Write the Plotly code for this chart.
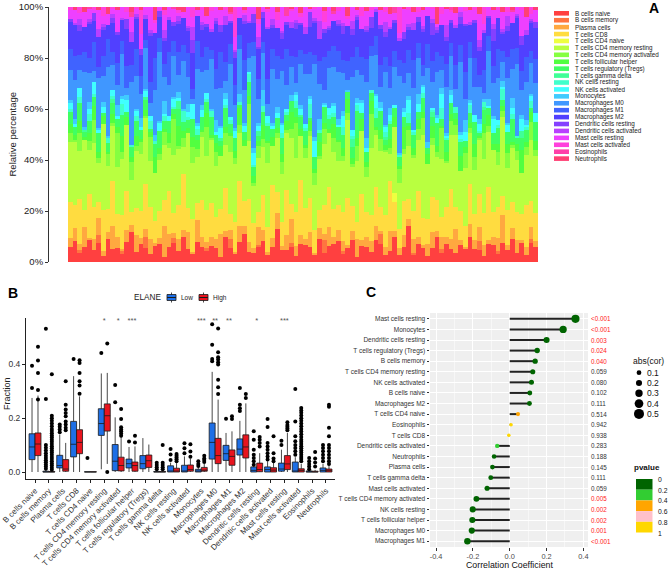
import colorsys
import plotly.graph_objects as go

W, H = 668, 574
FONT = "Liberation Sans, Arial, sans-serif"


def fx(p):
    return p / W


def fy(p):
    return 1 - p / H


cell_types = [
    "B cells naive", "B cells memory", "Plasma cells", "T cells CD8",
    "T cells CD4 naive", "T cells CD4 memory resting",
    "T cells CD4 memory activated", "T cells follicular helper",
    "T cells regulatory (Tregs)", "T cells gamma delta", "NK cells resting",
    "NK cells activated", "Monocytes", "Macrophages M0", "Macrophages M1",
    "Macrophages M2", "Dendritic cells resting", "Dendritic cells activated",
    "Mast cells resting", "Mast cells activated", "Eosinophils", "Neutrophils",
]

# ---------------- Panel A: per-sample fractions (percent) ----------------
a_b_naive = "5 8 3 6 9 4 7 2 10 6 5 3 8 12 4 6 7 3 5 9 2 6 8 4 11 5 3 7 6 4 9 5 2 8 6 3 7 10 5 4 6 8 3 5 13 6 4 7 2 9 5 6 3 8 4 7 5 10 3 6 8 2 5 7 4 9 6 3 5 8 4 6 11 3 7 5 2 6 9 4 8 5 3 7 6 10 4 5 2 8 6 3 7 5 9 4 6 3 8 5"
a_b_memory = "0 0 1 0 0 0 3 0 0 0 0 1 0 0 0 0 5 0 0 0 0 0 2 0 0 0 0 0 0 1 0 0 0 0 4 0 0 0 0 0 1 0 0 0 0 0 0 2 0 0 0 0 0 0 6 0 0 0 1 0 0 0 0 0 0 0 3 0 0 0 0 0 0 1 0 0 0 0 0 2 0 0 0 0 0 0 0 4 0 0 0 1 0 0 0 0 0 0 2 0"
a_plasma = "3 5 2 8 1 4 6 2 3 10 4 1 5 3 7 2 4 6 1 3 12 5 2 4 3 6 1 8 4 2 5 3 9 2 4 1 6 3 5 2 7 4 1 3 6 2 5 11 3 4 2 6 1 4 3 8 2 5 4 1 3 7 2 5 4 6 1 3 9 2 4 5 2 6 3 1 4 7 2 5 3 4 8 2 1 5 3 6 4 2 3 5 10 2 4 6 1 3 5 2"
a_cd8 = "12 9 15 7 18 11 6 14 10 20 8 13 16 5 11 9 22 12 7 14 10 17 8 12 25 9 13 6 15 11 19 8 10 14 7 12 16 9 21 11 6 13 10 18 8 12 15 7 11 27 9 14 10 6 13 17 8 12 11 20 9 7 15 12 10 16 8 13 23 9 11 14 6 12 18 10 8 15 11 9 13 19 7 12 10 16 8 14 11 24 9 12 7 15 10 13 8 17 11 9"
a_cd4_naive = "0 0 0 0 0 0 0 0 0 0 0 0 0 0 0 0 0 0 0 0 0 0 0 0 0 0 0 0 0 0 0 0 0 0 0 0 0 0 0 0 0 0 0 0 0 0 0 0 0 0 0 0 0 0 0 0 0 0 0 0 0 0 0 0 0 0 0 0 0 3 0 0 0 0 0 0 0 0 0 0 0 0 0 0 0 0 0 0 0 0 0 0 0 0 0 0 0 0 0 0"
a_cd4_rest = "20 24 16 28 18 22 14 30 19 25 17 21 27 13 23 19 32 18 15 26 21 17 24 20 12 28 22 16 25 19 35 18 21 14 27 23 17 20 29 16 22 18 26 13 21 24 19 31 17 22 15 25 20 18 28 23 16 21 19 33 14 24 20 17 26 22 18 25 12 21 27 19 16 23 20 30 18 22 15 26 19 21 24 17 28 20 14 23 19 25 22 16 29 18 21 24 13 20 26 19"
a_cd4_act = "3 1 6 0 4 8 2 0 5 1 12 3 0 7 2 4 1 9 0 3 5 2 15 1 4 0 6 3 2 10 1 5 0 4 7 2 3 0 18 1 5 3 8 0 2 6 1 4 11 0 3 2 5 1 7 0 4 9 2 3 1 6 0 5 13 2 4 1 3 0 8 2 5 1 4 6 0 3 2 14 1 5 3 0 7 2 4 1 9 3 0 5 2 6 1 4 0 3 8 2"
a_tfh = "3 2 4 1 3 5 2 3 1 4 2 6 3 2 4 1 3 2 5 3 1 4 2 7 3 2 4 3 1 5 2 3 4 2 1 3 6 2 4 3 2 5 1 3 2 4 3 8 2 3 1 4 2 5 3 2 4 1 3 6 2 3 4 2 5 1 3 2 4 3 2 9 1 3 4 2 3 5 2 1 4 3 2 6 3 2 4 1 3 5 2 3 2 4 1 3 7 2 4 3"
a_tregs = "4 3 6 2 5 3 7 1 4 5 3 8 2 4 6 3 5 1 4 9 3 5 2 6 4 3 7 2 5 4 10 3 2 6 4 5 1 3 7 4 2 5 6 3 4 8 2 5 3 6 4 1 5 3 7 4 2 6 5 3 4 11 2 5 3 4 6 2 7 3 5 4 1 6 3 5 2 4 8 3 5 4 2 6 3 4 7 1 5 3 4 6 2 5 9 3 4 5 2 6"
a_gd = "0 0 0 1 0 0 0 0 0 2 0 0 0 0 0 0 1 0 0 0 0 0 0 3 0 0 0 0 0 0 0 0 1 0 0 0 0 0 0 0 2 0 0 0 0 0 0 0 0 1 0 0 0 0 0 0 0 0 0 0 3 0 0 0 0 0 0 1 0 0 0 0 0 0 0 0 0 2 0 0 0 0 0 0 0 0 0 0 1 0 0 0 0 0 0 0 2 0 0 0"
a_nk_rest = "1 0 2 0 3 1 0 0 2 1 0 4 0 1 2 0 0 3 1 0 2 0 1 0 5 1 0 2 0 1 3 0 0 1 2 0 1 0 4 1 0 2 1 0 0 3 1 0 2 0 1 6 0 1 0 2 1 0 3 0 1 2 0 0 1 4 0 2 1 0 1 0 3 1 0 2 0 1 0 5 1 0 2 1 0 3 0 1 2 0 0 1 4 0 2 1 0 1 3 0"
a_nk_act = "2 1 3 0 2 4 1 2 0 3 1 2 5 0 2 1 3 2 0 4 1 2 3 1 0 2 6 1 3 2 0 1 4 2 1 3 0 2 1 5 2 0 3 1 2 4 1 0 2 3 1 2 7 0 1 3 2 1 4 0 2 1 3 2 0 5 1 2 3 1 0 2 4 1 3 2 0 1 2 6 1 3 0 2 4 1 2 3 0 1 5 2 1 3 2 0 4 1 2 3"
a_mono = "1 2 0 1 3 0 1 2 1 0 4 1 2 0 1 3 1 0 2 1 5 0 1 2 1 3 0 1 2 0 1 4 1 2 0 1 3 1 0 2 1 6 0 1 2 1 0 3 1 2 0 1 2 4 1 0 1 3 2 1 0 2 1 5 0 1 2 1 3 0 1 2 1 0 4 1 2 0 1 3 1 2 0 1 6 1 0 2 1 3 1 0 2 1 4 0 1 2 1 0"
a_m0 = "10 15 6 22 12 4 18 9 30 11 7 16 3 25 13 8 20 5 14 35 9 12 17 6 21 10 2 19 13 8 28 11 15 4 23 9 16 12 7 40 10 14 5 18 11 26 8 13 3 20 15 9 32 12 6 17 10 22 14 4 19 11 8 27 13 16 5 21 9 12 45 10 7 18 14 3 24 11 15 8 20 13 6 29 10 17 9 14 2 22 12 16 7 19 11 33 8 15 13 10"
a_m1 = "7 9 5 8 6 10 4 7 12 6 8 5 9 7 11 6 4 8 10 7 5 13 6 8 7 9 4 10 6 8 5 7 14 6 9 8 5 11 7 6 8 4 10 7 9 6 12 5 8 7 6 9 4 8 15 7 6 10 5 8 7 9 6 11 4 8 7 6 10 5 9 8 7 12 6 4 8 9 7 6 10 5 8 7 13 6 9 5 8 7 6 11 4 9 8 7 6 10 5 8"
a_m2 = "9 12 8 10 14 7 11 9 6 13 10 8 15 9 12 7 10 18 8 11 9 13 6 10 12 8 14 9 11 7 10 16 8 12 9 11 6 13 10 8 12 9 20 7 11 10 8 13 9 12 6 10 14 8 11 9 7 12 10 15 8 11 9 13 7 10 12 8 17 9 11 10 6 13 8 12 9 11 7 14 10 8 12 9 22 7 11 10 13 8 9 12 6 11 10 14 8 9 12 10"
a_dc_rest = "1 0 2 0 1 3 0 1 0 2 1 0 4 0 1 2 0 1 0 3 1 0 2 1 0 1 5 0 2 1 0 1 3 0 1 2 0 1 0 4 1 2 0 1 0 3 1 0 2 1 0 6 1 0 2 1 0 1 3 0 2 1 0 1 4 0 1 2 0 1 0 3 1 0 2 1 0 5 1 0 2 1 0 3 1 0 1 2 0 1 4 0 1 2 0 1 3 0 1 2"
a_dc_act = "0 1 2 0 1 0 3 1 0 2 0 1 0 4 1 0 2 1 0 0 3 1 0 2 0 1 5 0 1 0 2 1 0 3 0 1 0 2 1 0 4 0 1 2 0 1 0 3 1 0 2 0 1 6 0 1 0 2 1 0 3 1 0 2 0 1 0 4 1 0 2 0 1 3 0 1 0 2 1 0 5 0 1 2 0 1 0 3 1 0 2 0 1 4 0 1 0 2 1 0"
a_mast_rest = "3 5 2 6 4 1 7 3 5 2 8 4 3 6 2 5 4 9 3 2 6 4 5 1 3 7 4 2 5 3 10 4 6 2 3 5 4 1 7 3 5 2 6 4 3 12 2 5 4 3 6 1 4 5 3 8 2 4 6 3 5 2 4 7 3 1 5 4 6 2 3 9 4 5 2 6 3 4 1 5 7 3 4 2 6 5 3 11 2 4 5 3 6 2 4 3 8 5 2 4"
a_mast_act = "1 0 2 0 0 1 0 3 0 1 0 0 2 0 1 8 0 0 1 0 2 0 0 1 0 0 4 0 1 0 2 0 0 1 0 12 0 1 0 0 2 0 1 0 3 0 0 1 0 2 0 0 1 0 5 0 0 2 0 1 0 0 3 0 1 0 0 2 0 0 15 0 1 0 2 0 0 1 0 3 0 1 0 0 2 0 1 0 6 0 0 1 0 2 0 0 1 0 3 0"
a_eos = "0 0 0 0 1 0 0 0 0 0 0 0 0 2 0 0 0 0 0 0 0 0 1 0 0 0 0 0 0 0 0 0 0 0 1 0 0 0 0 0 0 0 0 0 0 0 3 0 0 0 0 0 0 0 0 0 1 0 0 0 0 0 0 0 0 0 0 0 0 2 0 0 0 0 0 0 0 0 0 0 0 1 0 0 0 0 0 0 0 0 0 0 0 0 1 0 0 0 0 0"
a_neut = "0 1 0 2 0 0 1 0 3 0 1 0 0 2 0 1 0 0 4 0 1 0 0 1 2 0 0 1 0 3 0 0 1 0 2 0 0 1 0 0 5 0 1 0 2 0 0 1 0 3 0 1 0 0 2 0 1 0 0 4 0 1 0 2 0 0 1 0 3 0 0 1 0 2 0 1 0 0 6 0 1 0 2 0 0 1 0 3 0 0 1 0 2 0 1 0 0 4 0 1"

a_series = [a_b_naive, a_b_memory, a_plasma, a_cd8, a_cd4_naive, a_cd4_rest,
            a_cd4_act, a_tfh, a_tregs, a_gd, a_nk_rest, a_nk_act, a_mono,
            a_m0, a_m1, a_m2, a_dc_rest, a_dc_act, a_mast_rest, a_mast_act,
            a_eos, a_neut]
a_tick_vals = [0, 20, 40, 60, 80, 100]
a_tick_text = ["0%", "20%", "40%", "60%", "80%", "100%"]

# ---------------- Panel B: box statistics (Low / High ELANE) ----------------
b_low_q1 = [0.046, 0, 0.015, 0.056, 0, 0.136, 0.005, 0.015, 0.012, 0, 0, 0, 0, 0.048, 0.043, 0.063, 0, 0, 0.003, 0, 0, 0]
b_low_med = [0.093, 0, 0.024, 0.103, 0, 0.18, 0.04, 0.031, 0.031, 0, 0.003, 0.003, 0.002, 0.11, 0.068, 0.085, 0.006, 0.009, 0.011, 0.001, 0, 0.006]
b_low_q3 = [0.142, 0.003, 0.062, 0.188, 0.001, 0.235, 0.102, 0.048, 0.061, 0.002, 0.023, 0.025, 0.01, 0.182, 0.099, 0.123, 0.019, 0.019, 0.033, 0.037, 0.004, 0.015]
b_low_lo = [0, 0, 0, 0, 0, 0.01, 0, 0, 0, 0, 0, 0, 0, 0, 0, 0, 0, 0, 0, 0, 0, 0]
b_low_hi = [0.275, 0.007, 0.139, 0.356, 0.001, 0.366, 0.203, 0.093, 0.126, 0.005, 0.035, 0.058, 0.018, 0.372, 0.145, 0.19, 0.022, 0.04, 0.083, 0.055, 0.008, 0.03]
b_low_out = [
    [0.395, 0.312],
    [0.012, 0.02, 0.028, 0.036, 0.044, 0.052, 0.06, 0.07, 0.08, 0.09, 0.1, 0.271, 0.532],
    [0.148, 0.158, 0.168, 0.176],
    [0.42],
    [0.052],
    [0.442],
    [0.259, 0.323],
    [0.113],
    [],
    [0.01, 0.018, 0.026, 0.034],
    [0.045, 0.065, 0.085],
    [0.07, 0.088, 0.107],
    [0.022, 0.03, 0.04],
    [0.411, 0.42, 0.473, 0.549],
    [0.198],
    [0.227, 0.237, 0.25, 0.312],
    [0.027, 0.04, 0.052, 0.064, 0.083, 0.12, 0.151],
    [0.046, 0.058, 0.07, 0.083, 0.095, 0.108, 0.167, 0.197],
    [0.1, 0.116],
    [0.064, 0.077, 0.089, 0.1, 0.114, 0.133, 0.188, 0.308],
    [0.01, 0.02, 0.03, 0.04, 0.052],
    [0.04, 0.052, 0.064, 0.077, 0.089, 0.1],
]
b_high_q1 = [0.061, 0, 0.003, 0.068, 0, 0.152, 0.004, 0.003, 0.017, 0, 0, 0.003, 0.003, 0.031, 0.025, 0.052, 0.001, 0, 0.009, 0, 0, 0]
b_high_med = [0.104, 0, 0.011, 0.11, 0, 0.209, 0.024, 0.024, 0.042, 0, 0.003, 0.009, 0.007, 0.061, 0.058, 0.093, 0.009, 0.007, 0.03, 0.006, 0, 0.005]
b_high_q3 = [0.145, 0.002, 0.046, 0.157, 0.001, 0.253, 0.055, 0.037, 0.063, 0.002, 0.014, 0.026, 0.017, 0.125, 0.082, 0.138, 0.033, 0.016, 0.061, 0.012, 0.003, 0.011]
b_high_lo = [0, 0, 0, 0, 0, 0.03, 0, 0, 0, 0, 0, 0, 0, 0, 0, 0, 0, 0, 0, 0, 0, 0]
b_high_hi = [0.284, 0.005, 0.108, 0.281, 0.001, 0.368, 0.133, 0.095, 0.102, 0.005, 0.033, 0.05, 0.03, 0.269, 0.151, 0.255, 0.07, 0.035, 0.145, 0.03, 0.008, 0.025]
b_high_out = [
    [0.269, 0.305, 0.368, 0.414, 0.465],
    [0.008, 0.016, 0.024, 0.032, 0.04, 0.048, 0.056, 0.064, 0.072, 0.08, 0.088, 0.096, 0.104, 0.112, 0.12, 0.128, 0.136, 0.144, 0.152, 0.16, 0.17, 0.18, 0.19, 0.2, 0.209, 0.363],
    [0.155, 0.164, 0.176, 0.188, 0.207, 0.219, 0.232, 0.25, 0.337],
    [0.291, 0.321, 0.337, 0.368, 0.405, 0.415],
    [],
    [0.0, 0.477],
    [0.135, 0.143, 0.151, 0.158, 0.166, 0.197, 0.234],
    [0.11, 0.135],
    [],
    [0.01, 0.018, 0.026, 0.034, 0.1],
    [0.04, 0.047, 0.054, 0.06, 0.067],
    [0.057, 0.076, 0.103],
    [0.037, 0.045, 0.05, 0.06],
    [0.29, 0.315, 0.343, 0.399, 0.408, 0.418, 0.426, 0.445, 0.533],
    [0.197, 0.207],
    [0.275, 0.29],
    [0.095, 0.108, 0.12, 0.13],
    [0.04, 0.05, 0.07, 0.133],
    [0.155, 0.162, 0.168, 0.175, 0.185],
    [0.04, 0.048, 0.056, 0.064, 0.072, 0.08, 0.088, 0.096, 0.104, 0.112, 0.12, 0.13, 0.14, 0.15, 0.16, 0.17, 0.18, 0.19, 0.2, 0.21, 0.22, 0.228, 0.238],
    [0.02, 0.035, 0.05, 0.074],
    [0.03, 0.04, 0.052, 0.064, 0.077, 0.089, 0.1, 0.133, 0.164, 0.242, 0.25],
]
b_signif = ["", "", "", "", "", "*", "*", "***", "", "", "", "", "***", "**", "**", "", "*", "", "***", "", "", ""]
b_tick_vals = [0, 0.2, 0.4]
b_tick_text = ["0.0", "0.2", "0.4"]

# ---------------- Panel C: correlation lollipop ----------------
c_names = [
    "Mast cells resting", "Monocytes", "Dendritic cells resting",
    "T cells regulatory (Tregs)", "B cells memory", "T cells CD4 memory resting",
    "NK cells activated", "B cells naive", "Macrophages M2", "T cells CD4 naive",
    "Eosinophils", "T cells CD8", "Dendritic cells activated", "Neutrophils",
    "Plasma cells", "T cells gamma delta", "Mast cells activated",
    "T cells CD4 memory activated", "NK cells resting", "T cells follicular helper",
    "Macrophages M0", "Macrophages M1",
]
c_cor = [0.357, 0.29, 0.20, 0.149, 0.138, 0.125, 0.118, 0.109, 0.107, 0.045, 0.007,
         -0.005, -0.068, -0.085, -0.094, -0.103, -0.123, -0.181, -0.201, -0.203, -0.206, -0.23]
c_pval = [0.0005, 0.0005, 0.003, 0.024, 0.040, 0.059, 0.080, 0.102, 0.111, 0.514, 0.942,
          0.938, 0.283, 0.188, 0.145, 0.111, 0.059, 0.005, 0.002, 0.002, 0.001, 0.0005]
c_ptext = ["<0.001", "<0.001", "0.003", "0.024", "0.040", "0.059", "0.080", "0.102", "0.111",
           "0.514", "0.942", "0.938", "0.283", "0.188", "0.145", "0.111", "0.059", "0.005",
           "0.002", "0.002", "0.001", "<0.001"]
c_tick_vals = [-0.4, -0.2, 0.0, 0.2, 0.4]
c_tick_text = ["-0.4", "-0.2", "0.0", "0.2", "0.4"]
size_legend_vals = [0.1, 0.2, 0.3, 0.4, 0.5]
pval_bin_labels = ["0", "0.2", "0.4", "0.6", "0.8", "1"]
pval_bin_colors = ["#006400", "#32CD32", "#FFA500", "#FFC0CB", "#FFD700"]

# ======================================================================
fig = go.Figure()
shapes = []
annotations = []

# ---------- Panel A ----------
a_vals = [[float(v) for v in s.split()] for s in a_series]
n_samp = min(len(v) for v in a_vals)
a_colors = []
for i in range(len(cell_types)):
    r, g, b = colorsys.hsv_to_rgb(i / len(cell_types), 0.75, 1.0)
    a_colors.append("#%02x%02x%02x" % (int(round(r * 255)), int(round(g * 255)), int(round(b * 255))))

for name, vals, col in zip(cell_types, a_vals, a_colors):
    fig.add_trace(go.Bar(
        x=list(range(n_samp)), y=vals[:n_samp], name=name,
        marker=dict(color=col, line=dict(width=0)),
        showlegend=False, xaxis="x", yaxis="y", hoverinfo="skip",
    ))

A_L, A_BARS, A_R, A_T, A_B = 49, 68, 538, 7, 262
bar_px = (A_R - A_BARS) / n_samp
pad_units = (A_BARS - A_L) / bar_px

# Panel A legend (drawn manually)
for i, (name, col) in enumerate(zip(cell_types, a_colors)):
    yc = 13.3 + i * 6.92
    shapes.append(dict(type="rect", xref="paper", yref="paper",
                       x0=fx(554), x1=fx(569), y0=fy(yc + 2.3), y1=fy(yc - 2.3),
                       fillcolor=col, line=dict(width=0)))
    annotations.append(dict(text=name, xref="paper", yref="paper", x=fx(573), y=fy(yc),
                            xanchor="left", yanchor="middle", showarrow=False,
                            font=dict(size=6.3, color="#222", family=FONT)))
annotations.append(dict(text="Relative percentage", xref="paper", yref="paper",
                        x=fx(12), y=fy((A_T + A_B) / 2), textangle=-90, showarrow=False,
                        xanchor="center", yanchor="middle",
                        font=dict(size=9.5, color="#222", family=FONT)))

# ---------- Panel B ----------
BLUE, RED = "#1E6FE6", "#E8141E"
OFF, BW = 0.215, 0.43
ncat = len(cell_types)
for q1, med, q3, lo, hi, outs, off, col in [
    (b_low_q1, b_low_med, b_low_q3, b_low_lo, b_low_hi, b_low_out, -OFF, BLUE),
    (b_high_q1, b_high_med, b_high_q3, b_high_lo, b_high_hi, b_high_out, OFF, RED),
]:
    fig.add_trace(go.Box(
        x=[i + off for i in range(ncat)], q1=q1, median=med, q3=q3,
        lowerfence=lo, upperfence=hi, width=BW, fillcolor=col,
        line=dict(color="#1a1a1a", width=0.8), whiskerwidth=0,
        boxpoints=False, showlegend=False, xaxis="x2", yaxis="y2", hoverinfo="skip",
    ))
    ox, oy = [], []
    for i, lst in enumerate(outs):
        for v in lst:
            ox.append(i + off)
            oy.append(v)
    fig.add_trace(go.Scatter(
        x=ox, y=oy, mode="markers", marker=dict(color="black", size=4, line=dict(width=0)),
        showlegend=False, xaxis="x2", yaxis="y2", hoverinfo="skip",
    ))

fig.add_trace(go.Scatter(
    x=list(range(ncat)), y=[0.562] * ncat, mode="text", text=b_signif,
    textfont=dict(size=7.5, color="#555", family=FONT),
    showlegend=False, xaxis="x2", yaxis="y2", hoverinfo="skip",
))

annotations.append(dict(text="Fraction", xref="paper", yref="paper", x=fx(7), y=fy(394),
                        textangle=-90, showarrow=False, xanchor="center", yanchor="middle",
                        font=dict(size=9, color="#222", family=FONT)))
# B legend
annotations.append(dict(text="ELANE", xref="paper", yref="paper", x=fx(163), y=fy(297.5),
                        xanchor="right", yanchor="middle", showarrow=False,
                        font=dict(size=8.2, color="#222", family=FONT)))
for x0, col, lab in [(167, BLUE, "Low"), (199, RED, "High")]:
    cx = x0 + 4.5
    shapes.append(dict(type="line", xref="paper", yref="paper", x0=fx(cx), x1=fx(cx),
                       y0=fy(292.5), y1=fy(302.5), line=dict(color="#1a1a1a", width=0.8)))
    shapes.append(dict(type="rect", xref="paper", yref="paper", x0=fx(x0), x1=fx(x0 + 9),
                       y0=fy(300.5), y1=fy(294.5), fillcolor=col,
                       line=dict(color="#1a1a1a", width=0.8)))
    shapes.append(dict(type="line", xref="paper", yref="paper", x0=fx(x0), x1=fx(x0 + 9),
                       y0=fy(297.5), y1=fy(297.5), line=dict(color="#1a1a1a", width=1)))
    annotations.append(dict(text=lab, xref="paper", yref="paper", x=fx(x0 + 12), y=fy(297.5),
                            xanchor="left", yanchor="middle", showarrow=False,
                            font=dict(size=6.5, color="#222", family=FONT)))

# ---------- Panel C ----------
nc = len(c_names)
c_y = [nc - 1 - i for i in range(nc)]


def pcolor(p):
    idx = min(int(p / 0.2), 4)
    return pval_bin_colors[idx]


def dsize(v):
    return 3.5 + 13 * abs(v)


seg_x, seg_y = [], []
for v, y in zip(c_cor, c_y):
    seg_x += [0, v, None]
    seg_y += [y, y, None]
fig.add_trace(go.Scatter(x=seg_x, y=seg_y, mode="lines", line=dict(color="#222", width=2),
                         showlegend=False, xaxis="x3", yaxis="y3", hoverinfo="skip"))
fig.add_trace(go.Scatter(
    x=c_cor, y=c_y, mode="markers",
    marker=dict(color=[pcolor(p) for p in c_pval], size=[dsize(v) for v in c_cor],
                line=dict(width=0), opacity=1),
    showlegend=False, xaxis="x3", yaxis="y3", hoverinfo="skip",
))
shapes.append(dict(type="rect", xref="x3 domain", yref="y3 domain", x0=0, x1=1, y0=0, y1=1,
                   fillcolor="#EFEFEF", line=dict(width=0), layer="below"))
for t, p, y in zip(c_ptext, c_pval, c_y):
    annotations.append(dict(text=t, xref="paper", yref="y3", x=fx(589), y=y,
                            xanchor="left", yanchor="middle", showarrow=False,
                            font=dict(size=6.3, color="#FF2020" if p < 0.05 else "#333",
                                      family=FONT)))
annotations.append(dict(text="Correlation Coefficient", xref="paper", yref="paper",
                        x=fx(509), y=fy(565), xanchor="center", yanchor="middle",
                        showarrow=False, font=dict(size=8.8, color="#111", family=FONT)))
# size legend
annotations.append(dict(text="abs(cor)", xref="paper", yref="paper", x=fx(631), y=fy(361),
                        xanchor="left", yanchor="middle", showarrow=False,
                        font=dict(size=8.5, color="#111", family=FONT)))
for k, v in enumerate(size_legend_vals):
    yc = 372.7 + k * 10.3
    r = dsize(v) / 2
    shapes.append(dict(type="circle", xref="paper", yref="paper",
                       x0=fx(639 - r), x1=fx(639 + r), y0=fy(yc + r), y1=fy(yc - r),
                       fillcolor="black", line=dict(width=0)))
    annotations.append(dict(text=str(v), xref="paper", yref="paper", x=fx(645), y=fy(yc),
                            xanchor="left", yanchor="middle", showarrow=False,
                            font=dict(size=8.5, color="#111", family=FONT)))
# p-value legend
annotations.append(dict(text="<b>pvalue</b>", xref="paper", yref="paper", x=fx(632), y=fy(467),
                        xanchor="left", yanchor="middle", showarrow=False,
                        font=dict(size=8, color="#111", family=FONT)))
for k, col in enumerate(pval_bin_colors):
    y0 = 479 + k * 10.7
    shapes.append(dict(type="rect", xref="paper", yref="paper", x0=fx(636), x1=fx(652.5),
                       y0=fy(y0 + 10.7), y1=fy(y0), fillcolor=col, line=dict(width=0)))
for k, lab in enumerate(pval_bin_labels):
    annotations.append(dict(text=lab, xref="paper", yref="paper", x=fx(656), y=fy(479.5 + k * 10.7),
                            xanchor="left", yanchor="middle", showarrow=False,
                            font=dict(size=6.8, color="#111", family=FONT)))

# Panel labels
for lab, x, y in [("A", 653.5, 8), ("B", 13, 293), ("C", 371.5, 292)]:
    annotations.append(dict(text="<b>%s</b>" % lab, xref="paper", yref="paper", x=fx(x), y=fy(y),
                            xanchor="center", yanchor="middle", showarrow=False,
                            font=dict(size=14, color="black", family=FONT)))

axis_common = dict(showgrid=False, zeroline=False, automargin=False)
fig.update_layout(
    template="none",
    width=W, height=H, autosize=False,
    margin=dict(l=0, r=0, t=0, b=0, pad=0, autoexpand=False),
    paper_bgcolor="white", plot_bgcolor="rgba(0,0,0,0)",
    barmode="stack", barnorm="percent", bargap=0,
    font=dict(family=FONT, color="#333"),
    showlegend=False,
    xaxis=dict(domain=[fx(A_L), fx(A_R)], range=[-0.5 - pad_units, n_samp - 0.5],
               visible=False, anchor="y", **axis_common),
    yaxis=dict(domain=[fy(A_B), fy(A_T)], range=[0, 100], tickmode="array",
               tickvals=a_tick_vals, ticktext=a_tick_text,
               showline=True, linecolor="#333", linewidth=1,
               ticks="outside", ticklen=3, tickcolor="#333",
               tickfont=dict(size=9.5, color="#222"), anchor="x", **axis_common),
    xaxis2=dict(domain=[fx(26), fx(335)], range=[-0.65, ncat - 0.35], tickmode="array",
                tickvals=list(range(ncat)), ticktext=cell_types, tickangle=-45,
                tickfont=dict(size=8, color="#333"), showline=True, linecolor="#222",
                linewidth=1, ticks="outside", ticklen=3, tickcolor="#222",
                anchor="y2", **axis_common),
    yaxis2=dict(domain=[fy(479), fy(318)], range=[-0.026, 0.572], tickmode="array",
                tickvals=b_tick_vals, ticktext=b_tick_text, tickfont=dict(size=8.5, color="#333"),
                showline=True, linecolor="#222", linewidth=1, ticks="outside", ticklen=3,
                tickcolor="#222", anchor="x2", **axis_common),
    xaxis3=dict(domain=[fx(430), fx(588)], range=[-0.433, 0.425], tickmode="array",
                tickvals=c_tick_vals, ticktext=c_tick_text,
                tickfont=dict(size=7.4, color="#4d4d4d"), showgrid=True, gridcolor="white",
                gridwidth=1, zeroline=False, automargin=False, showline=False,
                ticks="outside", ticklen=2.5, tickcolor="#333",
                minor=dict(tickvals=[-0.3, -0.1, 0.1, 0.3], showgrid=True, gridcolor="white",
                           gridwidth=0.5, ticks=""),
                anchor="y3"),
    yaxis3=dict(domain=[fy(547), fy(313)], range=[-0.55, nc - 0.45], tickmode="array",
                tickvals=c_y, ticktext=c_names, tickfont=dict(size=6.5, color="#333"),
                showgrid=True, gridcolor="white", gridwidth=1, zeroline=False,
                automargin=False, showline=False,
                ticks="outside", ticklen=2.5, tickcolor="#333", anchor="x3"),
    shapes=shapes,
    annotations=annotations,
)

fig.write_html(
    "out.html",
    config={"displayModeBar": False, "staticPlot": True},
    post_script="document.body.style.margin='0px';document.body.style.overflow='hidden';",
)
